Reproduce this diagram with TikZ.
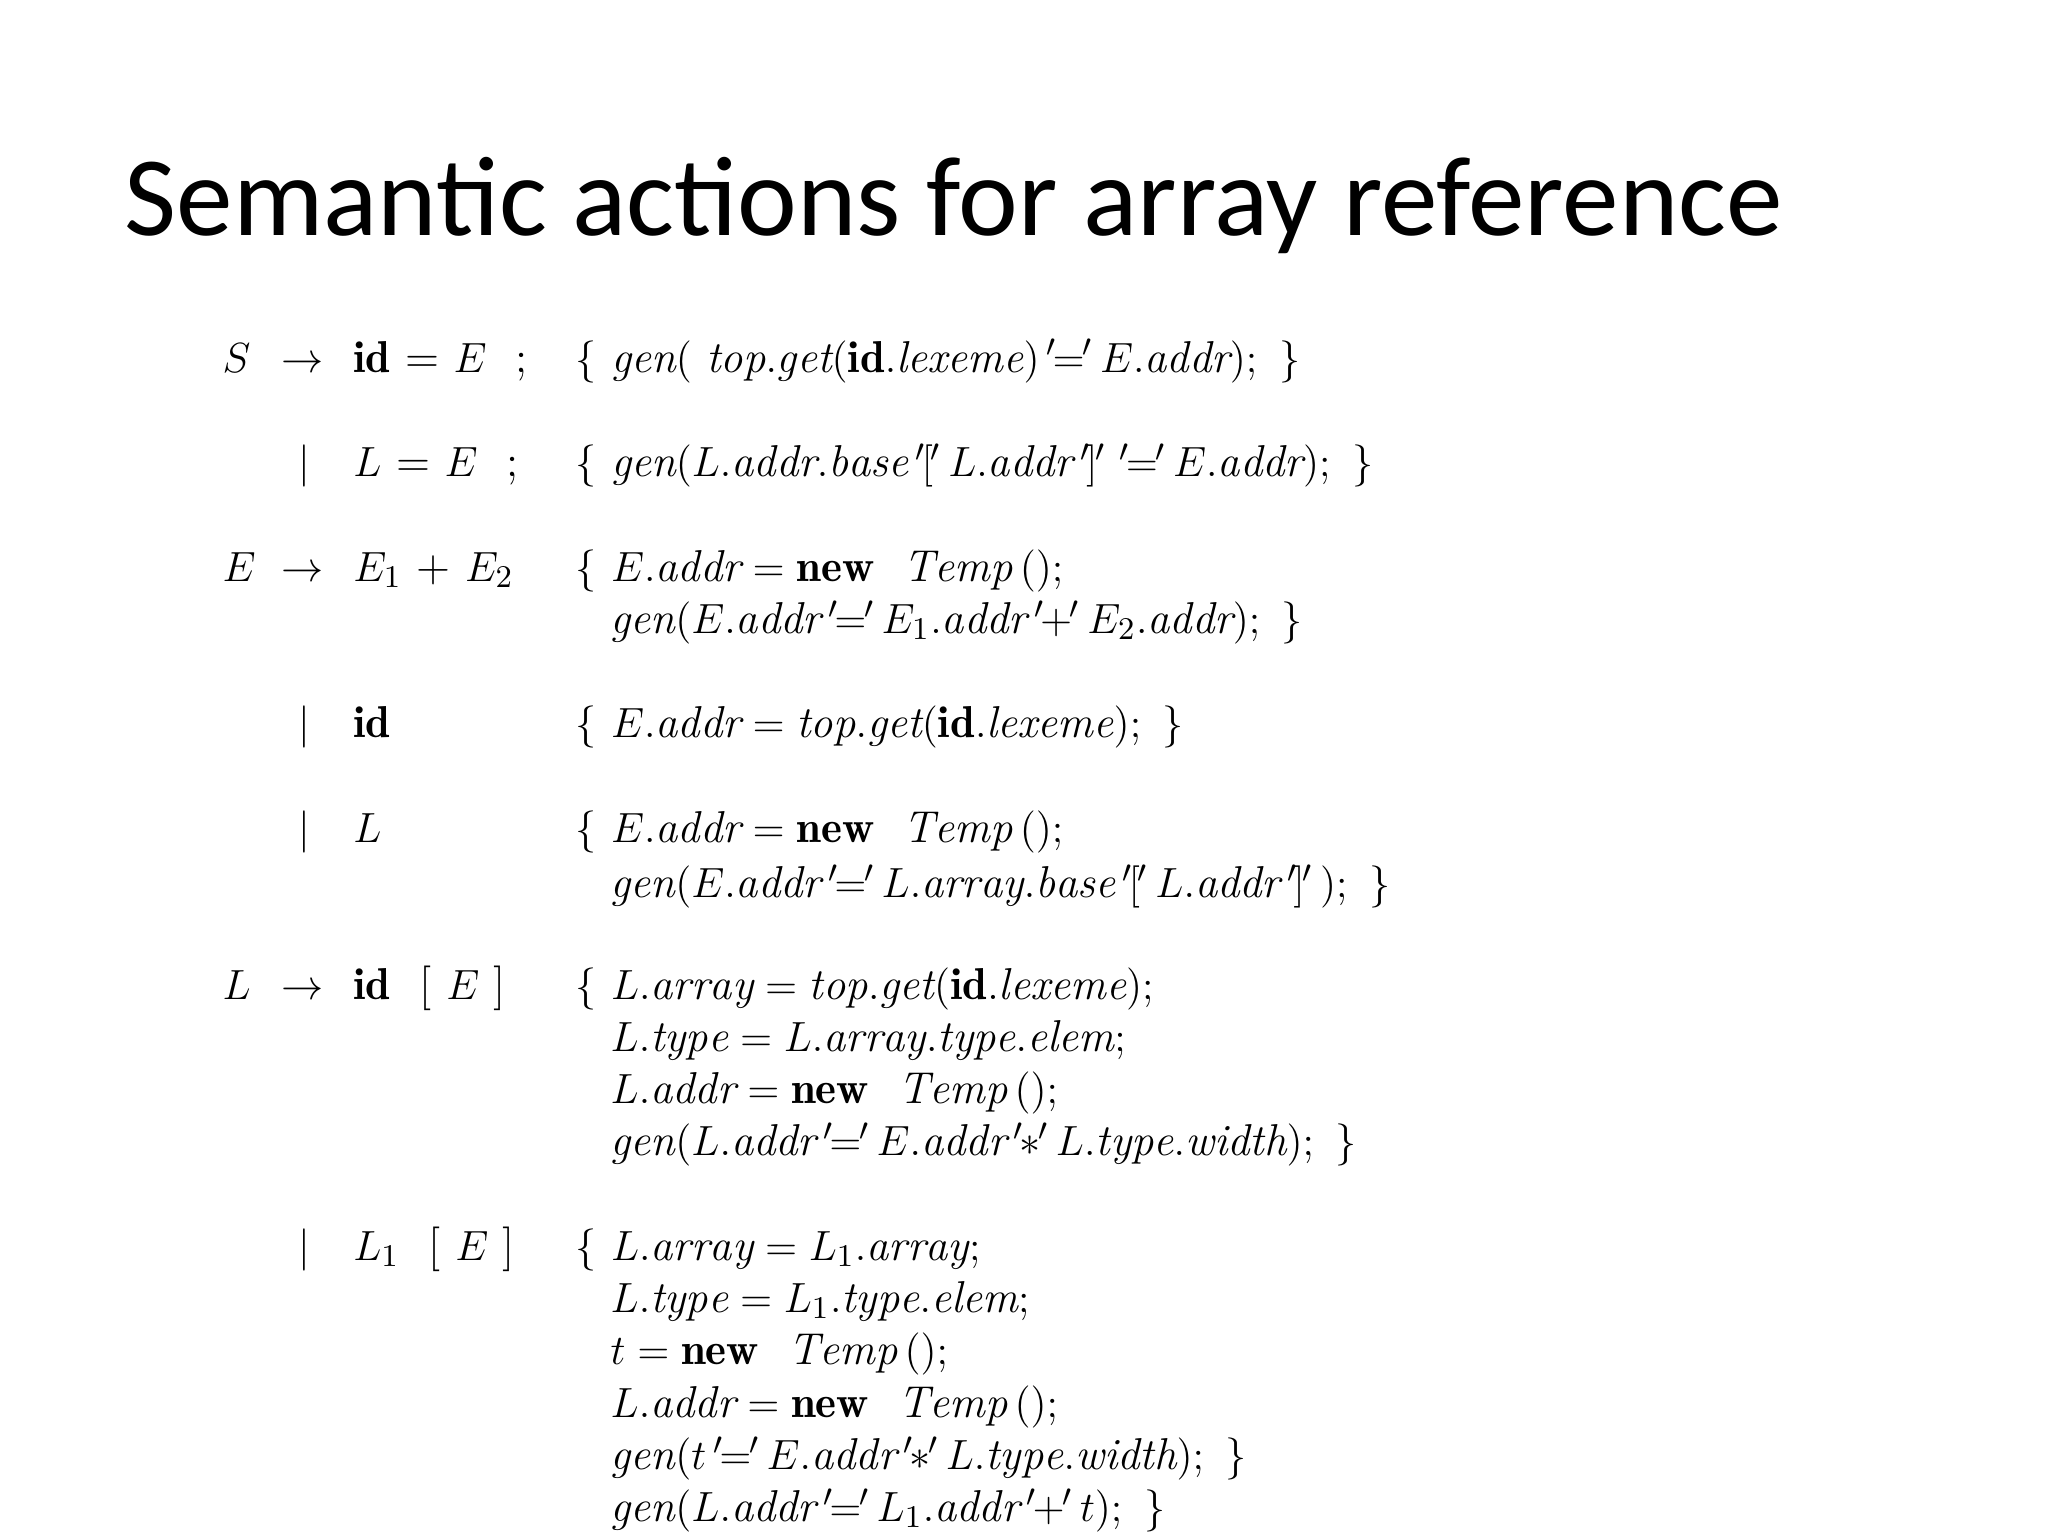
\documentclass[tikz,border=0pt]{standalone}
\usepackage{fontspec}
\newfontfamily\titlefont{Carlito}
\newcommand{\qq}[1]{\,{}'\mkern-2mu{#1}\mkern-1mu'\,}
\newcommand{\ai}[1]{\mathit{#1}}
\tikzset{t/.style={anchor=base west,inner sep=0pt,font=\fontsize{12.7}{15}\selectfont}}
\begin{document}
\begin{tikzpicture}[x=0.013061cm,y=-0.013061cm]
\useasboundingbox (0,0) rectangle (1568,1176);
\node[anchor=base west,inner sep=0pt,font=\titlefont\fontsize{32.2}{38}\selectfont] (title) at (95,180) {Semantic actions for array reference};
% productions
\node[t] (l1) at (170,285) {$S$}; \node[t] (a1) at (215,285) {$\rightarrow$}; \node[t] (r1) at (270,285) {$\mathbf{id}$ = $E$\ \ ;};
\node[t] (b2) at (228,365) {$|$}; \node[t] (r2) at (270,365) {$L$ = $E$\ \ ;};
\node[t] (l3) at (170,445) {$E$}; \node[t] (a3) at (215,445) {$\rightarrow$}; \node[t] (r3) at (270,445) {$E_1$ + $E_2$};
\node[t] (b4) at (228,565) {$|$}; \node[t] (r4) at (270,565) {$\mathbf{id}$};
\node[t] (b5) at (228,645) {$|$}; \node[t] (r5) at (270,645) {$L$};
\node[t] (l6) at (170,765) {$L$}; \node[t] (a6) at (215,765) {$\rightarrow$}; \node[t] (r6) at (270,765) {$\mathbf{id}$\ \ [\ $E$\ ]};
\node[t] (b7) at (228,965) {$|$}; \node[t] (r7) at (270,965) {$L_1$\ \ [\ $E$\ ]};
% actions
\node[t] (c1) at (440,285) {$\{\ \ai{gen}(\ \ai{top.get}(\mathbf{id}.\ai{lexeme})\qq{=}E.\ai{addr});\ \}$};
\node[t] (c2) at (440,365) {$\{\ \ai{gen}(L.\ai{addr.base}\qq{[}L.\ai{addr}\qq{]}\qq{=}E.\ai{addr});\ \}$};
\node[t] (c3) at (440,445) {$\{\ E.\ai{addr} = \mathbf{new}\ \ \ai{Temp}\,();$};
\node[t] (c3b) at (467,485) {$\ai{gen}(E.\ai{addr}\qq{=}E_1.\ai{addr}\qq{+}E_2.\ai{addr});\ \}$};
\node[t] (c4) at (440,565) {$\{\ E.\ai{addr} = \ai{top.get}(\mathbf{id}.\ai{lexeme});\ \}$};
\node[t] (c5) at (440,645) {$\{\ E.\ai{addr} = \mathbf{new}\ \ \ai{Temp}\,();$};
\node[t] (c5b) at (467,687) {$\ai{gen}(E.\ai{addr}\qq{=}L.\ai{array.base}\qq{[}L.\ai{addr}\qq{]});\ \}$};
\node[t] (c6) at (440,765) {$\{\ L.\ai{array} = \ai{top.get}(\mathbf{id}.\ai{lexeme});$};
\node[t] (c6b) at (467,805) {$L.\ai{type} = L.\ai{array.type.elem};$};
\node[t] (c6c) at (467,845) {$L.\ai{addr} = \mathbf{new}\ \ \ai{Temp}\,();$};
\node[t] (c6d) at (467,885) {$\ai{gen}(L.\ai{addr}\qq{=}E.\ai{addr}\qq{*}L.\ai{type.width});\ \}$};
\node[t] (c7) at (440,965) {$\{\ L.\ai{array} = L_1.\ai{array};$};
\node[t] (c7b) at (467,1005) {$L.\ai{type} = L_1.\ai{type.elem};$};
\node[t] (c7c) at (467,1045) {$t = \mathbf{new}\ \ \ai{Temp}\,();$};
\node[t] (c7d) at (467,1085) {$L.\ai{addr} = \mathbf{new}\ \ \ai{Temp}\,();$};
\node[t] (c7e) at (467,1125) {$\ai{gen}(t\qq{=}E.\ai{addr}\qq{*}L.\ai{type.width});\ \}$};
\node[t] (c7f) at (467,1165) {$\ai{gen}(L.\ai{addr}\qq{=}L_1.\ai{addr}\qq{+}t);\ \}$};
\end{tikzpicture}
\end{document}
